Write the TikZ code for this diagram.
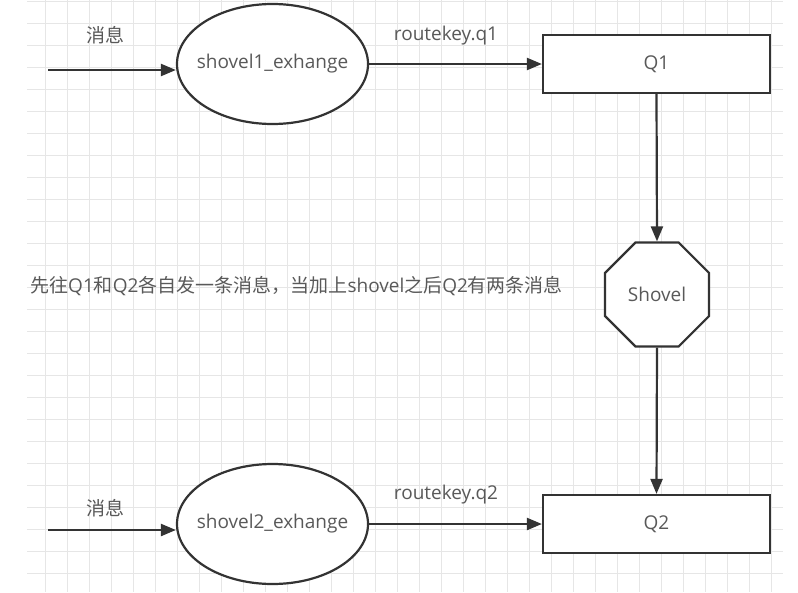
\documentclass[tikz,border=0pt]{standalone}
\usepackage{fontspec}
\setmainfont{Open Sans}
\newfontfamily\cjk{Noto Sans CJK SC}
\usetikzlibrary{shapes.geometric,arrows.meta}
\definecolor{gridc}{HTML}{E6E6E6}
\definecolor{linec}{HTML}{333333}
\definecolor{textc}{HTML}{595959}
\begin{document}
\begin{tikzpicture}[x=1pt,y=-1pt,
  every node/.style={text=textc,font=\fontsize{19}{22}\selectfont},
  exch/.style={ellipse,draw=linec,line width=2.2pt,fill=white,minimum width=191pt,minimum height=120pt,inner ysep=0pt,inner xsep=-35pt},
  queue/.style={rectangle,draw=linec,line width=2.2pt,fill=white,minimum width=227pt,minimum height=58pt,inner sep=0pt},
  shov/.style={regular polygon,regular polygon sides=8,draw=linec,line width=2.2pt,fill=white,minimum size=112.6pt,inner sep=0pt},
  conn/.style={draw=linec,line width=2.2pt,-{Triangle[length=15pt,width=12pt]}},
  lbl/.style={inner sep=0pt},
  gridline/.style={draw=gridc,line width=1pt}
]
\fill[white] (0,0) rectangle (798,592);
\useasboundingbox (0,0) rectangle (798,592);
\foreach \x in {45,67,...,771} \draw[gridline] (\x,0) -- (\x,592);
\foreach \y in {1,23,...,573} \draw[gridline] (27,\y) -- (783,\y);

\node[exch] (ex1) at (272.5,64) {shovel1\_exhange};
\node[queue] (q1) at (656.5,64) {Q1};
\node[shov] (sh) at (657,294.5) {Shovel};
\node[queue] (q2) at (656.5,524) {Q2};
\node[exch] (ex2) at (272.5,524) {shovel2\_exhange};
\coordinate (in1) at (48,70);
\coordinate (in2) at (48,530);
\node[lbl] (m1) at (105,35) {\cjk 消息};
\node[lbl] (m2) at (105,508) {\cjk 消息};
\node[lbl] (r1) at (446,36) {routekey.q1};
\node[lbl] (r2) at (446,495) {routekey.q2};
\node[lbl,anchor=west] (note) at (30,286) {{\cjk 先往}Q1{\cjk 和}Q2{\cjk 各自发一条消息，当加上}shovel{\cjk 之后}Q2{\cjk 有两条消息}};

\draw[conn] (in1) -- (in1 -| ex1.west);
\draw[conn] (ex1.east) -- (q1.west);
\draw[conn] (q1.south) -- (sh.90);
\draw[conn] (sh.270) -- (q2.north);
\draw[conn] (in2) -- (in2 -| ex2.west);
\draw[conn] (ex2.east) -- (q2.west);
\end{tikzpicture}
\end{document}
